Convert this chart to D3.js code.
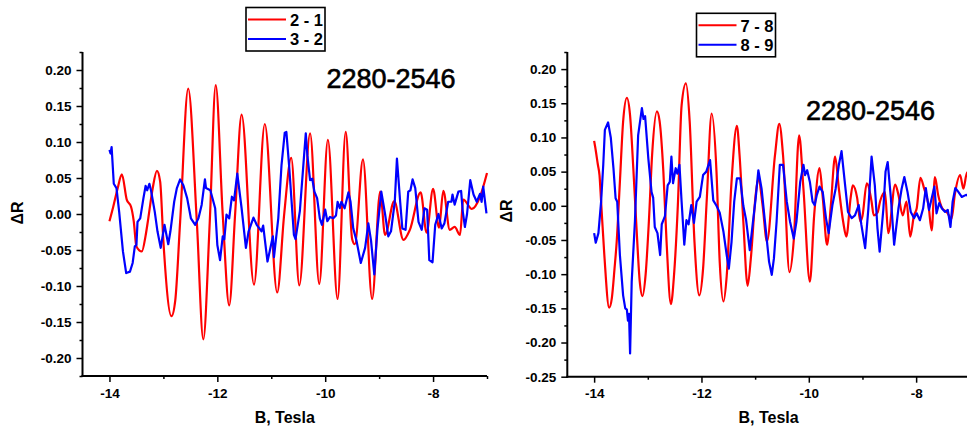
<!DOCTYPE html>
<html>
<head>
<meta charset="utf-8">
<script src="https://cdn.jsdelivr.net/npm/d3@7"></script>
<style>
  html, body { margin: 0; padding: 0; background: #ffffff; }
  svg { display: block; }
  text { font-family: "Liberation Sans", Arial, Helvetica, sans-serif; }
</style>
</head>
<body>
<svg id="chart" width="967" height="432"></svg>
<script>
// ---- shared axis settings ----
const fieldDomain = [-14.5, -7];
const xTickValues = [-14, -12, -10, -8];
const xTickLabels = ["-14", "-12", "-10", "-8"];
const xMinorValues = [-13, -11, -9, -7];

const leftYDomain = [-0.225, 0.225];
const leftYTickValues = [-0.20, -0.15, -0.10, -0.05, 0.00, 0.05, 0.10, 0.15, 0.20];
const leftYTickLabels = ["-0.20", "-0.15", "-0.10", "-0.05", "0.00", "0.05", "0.10", "0.15", "0.20"];
const leftYMinorValues = [-0.225, -0.175, -0.125, -0.075, -0.025, 0.025, 0.075, 0.125, 0.175, 0.225];

const rightYDomain = [-0.25, 0.225];
const rightYTickValues = [-0.25, -0.20, -0.15, -0.10, -0.05, 0.00, 0.05, 0.10, 0.15, 0.20];
const rightYTickLabels = ["-0.25", "-0.20", "-0.15", "-0.10", "-0.05", "0.00", "0.05", "0.10", "0.15", "0.20"];
const rightYMinorValues = [-0.225, -0.175, -0.125, -0.075, -0.025, 0.025, 0.075, 0.125, 0.175, 0.225];

const xTitle = "B, Tesla";
const yTitle = "ΔR";
const sampleLabel = "2280-2546";

const leftSeriesNames = ["2 - 1", "3 - 2"];
const rightSeriesNames = ["7 - 8", "8 - 9"];

// ---- series: [B (Tesla), ΔR] ----
const diff21 = [
  [-14.00, -0.010], [-13.93, 0.010], [-13.85, 0.035], [-13.77, 0.055], [-13.68, 0.020],
  [-13.60, 0.010], [-13.55, -0.010], [-13.50, -0.045], [-13.40, -0.052], [-13.33, -0.030],
  [-13.28, -0.006], [-13.20, 0.035], [-13.12, 0.060], [-13.06, 0.045], [-13.00, -0.038],
  [-12.85, -0.142], [-12.78, -0.120], [-12.69, -0.011], [-12.54, 0.174], [-12.38, -0.011],
  [-12.26, -0.174], [-12.14, -0.010], [-12.03, 0.179], [-11.90, -0.001], [-11.78, -0.127],
  [-11.67, 0.000], [-11.55, 0.138], [-11.32, -0.098], [-11.12, 0.125], [-10.89, -0.109],
  [-10.76, 0.000], [-10.63, 0.078], [-10.48, -0.099], [-10.28, 0.112], [-10.11, -0.097],
  [-9.95, 0.103], [-9.77, -0.118], [-9.62, 0.114], [-9.50, -0.035], [-9.45, -0.042],
  [-9.30, 0.076], [-9.13, -0.118], [-8.98, 0.031], [-8.89, -0.029], [-8.72, 0.018],
  [-8.55, -0.036], [-8.43, -0.022], [-8.23, 0.030], [-8.12, -0.026], [-8.00, 0.035],
  [-7.89, -0.019], [-7.81, 0.032], [-7.69, -0.022], [-7.60, -0.018], [-7.50, -0.029],
  [-7.44, 0.020], [-7.28, 0.007], [-7.13, 0.024], [-7.00, 0.057]
];

const diff32 = [
  [-14.00, 0.089], [-13.98, 0.084], [-13.96, 0.093], [-13.92, 0.042], [-13.87, 0.036],
  [-13.82, 0.003], [-13.75, -0.052], [-13.69, -0.082], [-13.62, -0.080], [-13.57, -0.068],
  [-13.53, -0.045], [-13.50, -0.043], [-13.48, -0.011], [-13.43, -0.006], [-13.37, 0.022],
  [-13.33, 0.039], [-13.30, 0.033], [-13.26, 0.042], [-13.23, 0.033], [-13.16, 0.003],
  [-13.11, -0.024], [-13.05, -0.047], [-12.98, -0.015], [-12.91, -0.042], [-12.87, -0.024],
  [-12.80, 0.017], [-12.75, 0.036], [-12.69, 0.048], [-12.63, 0.040], [-12.56, 0.022],
  [-12.49, -0.006], [-12.41, -0.015], [-12.35, -0.006], [-12.29, 0.013], [-12.23, 0.048],
  [-12.21, 0.036], [-12.13, 0.033], [-12.04, 0.008], [-12.00, -0.043], [-11.95, -0.064],
  [-11.90, -0.031], [-11.87, -0.035], [-11.83, -0.001], [-11.78, -0.006], [-11.73, 0.024],
  [-11.69, 0.019], [-11.63, 0.056], [-11.55, 0.008], [-11.47, -0.047], [-11.42, -0.024],
  [-11.33, -0.005], [-11.27, -0.015], [-11.18, -0.024], [-11.15, -0.016], [-11.07, -0.066],
  [-11.03, -0.052], [-10.97, -0.031], [-10.95, -0.060], [-10.87, -0.006], [-10.81, 0.068],
  [-10.75, 0.113], [-10.72, 0.114], [-10.67, 0.068], [-10.58, -0.029], [-10.55, -0.035],
  [-10.47, 0.004], [-10.41, 0.063], [-10.36, 0.112], [-10.33, 0.081], [-10.28, 0.047],
  [-10.24, 0.049], [-10.20, 0.031], [-10.15, 0.022], [-10.10, -0.006], [-10.06, -0.015],
  [-10.00, 0.006], [-9.96, -0.010], [-9.91, -0.004], [-9.85, -0.006], [-9.80, -0.002],
  [-9.77, 0.017], [-9.73, 0.008], [-9.70, 0.017], [-9.64, 0.008], [-9.57, 0.030],
  [-9.53, 0.017], [-9.48, -0.020], [-9.42, -0.037], [-9.34, -0.068], [-9.26, -0.047],
  [-9.20, -0.013], [-9.15, -0.037], [-9.09, -0.084], [-9.03, -0.020], [-8.96, 0.031],
  [-8.89, 0.000], [-8.83, -0.031], [-8.78, -0.024], [-8.71, 0.017], [-8.67, 0.077],
  [-8.61, 0.017], [-8.57, -0.020], [-8.51, -0.022], [-8.46, 0.031], [-8.42, 0.033],
  [-8.38, 0.048], [-8.33, 0.036], [-8.27, -0.011], [-8.21, -0.022], [-8.16, 0.008],
  [-8.11, 0.006], [-8.07, -0.064], [-8.01, -0.067], [-7.96, -0.015], [-7.90, 0.000],
  [-7.84, -0.020], [-7.79, -0.013], [-7.72, 0.017], [-7.66, 0.017], [-7.64, 0.027],
  [-7.60, 0.013], [-7.53, 0.031], [-7.48, 0.032], [-7.45, 0.004], [-7.41, -0.018],
  [-7.37, 0.000], [-7.31, 0.047], [-7.25, 0.027], [-7.19, 0.017], [-7.13, 0.028],
  [-7.10, 0.017], [-7.07, 0.038], [-7.01, 0.001]
];

const diff78 = [
  [-14.00, 0.095], [-13.98, 0.086], [-13.93, 0.060], [-13.90, 0.045], [-13.87, 0.006],
  [-13.81, -0.072], [-13.72, -0.149], [-13.67, -0.135], [-13.62, -0.092], [-13.58, -0.053],
  [-13.52, 0.035], [-13.46, 0.123], [-13.39, 0.158], [-13.33, 0.132], [-13.27, 0.055],
  [-13.21, -0.033], [-13.15, -0.111], [-13.10, -0.132], [-13.04, -0.100], [-12.98, -0.023],
  [-12.92, 0.074], [-12.83, 0.138], [-12.78, 0.124], [-12.71, 0.050], [-12.65, -0.053],
  [-12.57, -0.144], [-12.51, -0.100], [-12.44, 0.001], [-12.37, 0.147], [-12.29, 0.179],
  [-12.22, 0.124], [-12.13, -0.053], [-12.04, -0.131], [-11.97, -0.092], [-11.90, 0.011],
  [-11.81, 0.135], [-11.72, 0.050], [-11.66, -0.082], [-11.59, -0.140], [-11.53, -0.103],
  [-11.44, 0.035], [-11.34, 0.117], [-11.29, 0.074], [-11.22, -0.023], [-11.14, -0.117],
  [-11.08, -0.077], [-10.99, 0.016], [-10.94, 0.040], [-10.86, 0.000], [-10.78, -0.052],
  [-10.63, 0.074], [-10.55, 0.120], [-10.48, 0.074], [-10.36, -0.097], [-10.28, -0.050],
  [-10.18, 0.103], [-10.10, 0.025], [-9.98, -0.111], [-9.90, -0.014], [-9.80, 0.055],
  [-9.74, 0.012], [-9.66, -0.057], [-9.59, 0.000], [-9.51, 0.072], [-9.44, 0.025],
  [-9.36, -0.023], [-9.30, -0.045], [-9.22, 0.012], [-9.18, 0.030], [-9.10, 0.012],
  [-9.04, -0.023], [-9.00, -0.015], [-8.92, 0.033], [-8.83, 0.006], [-8.79, -0.014],
  [-8.72, -0.010], [-8.67, 0.007], [-8.58, 0.020], [-8.52, -0.040], [-8.39, 0.031],
  [-8.33, 0.016], [-8.25, -0.014], [-8.18, 0.006], [-8.11, -0.045], [-8.04, -0.014],
  [-7.99, -0.004], [-7.92, 0.041], [-7.85, 0.025], [-7.77, 0.001], [-7.71, -0.036],
  [-7.65, 0.042], [-7.59, 0.016], [-7.51, -0.004], [-7.43, -0.009], [-7.34, -0.019],
  [-7.28, 0.016], [-7.18, 0.045], [-7.12, 0.025], [-7.05, 0.049], [-7.00, 0.048]
];

const diff89 = [
  [-14.00, -0.040], [-13.97, -0.054], [-13.92, -0.040], [-13.87, 0.006], [-13.83, 0.060],
  [-13.80, 0.111], [-13.74, 0.122], [-13.69, 0.100], [-13.64, 0.055], [-13.60, 0.011],
  [-13.57, 0.006], [-13.52, -0.072], [-13.46, -0.131], [-13.42, -0.150], [-13.39, -0.152],
  [-13.37, -0.168], [-13.35, -0.158], [-13.33, -0.216], [-13.30, -0.111], [-13.24, -0.023],
  [-13.18, 0.103], [-13.11, 0.143], [-13.08, 0.127], [-13.05, 0.131], [-12.99, 0.069],
  [-12.93, 0.020], [-12.90, 0.012], [-12.87, -0.031], [-12.82, -0.040], [-12.77, -0.072],
  [-12.74, -0.027], [-12.68, -0.015], [-12.63, 0.030], [-12.59, 0.035], [-12.56, 0.072],
  [-12.53, 0.033], [-12.48, 0.055], [-12.45, 0.047], [-12.41, 0.060], [-12.37, 0.006],
  [-12.32, -0.057], [-12.28, -0.021], [-12.24, -0.027], [-12.19, 0.001], [-12.14, -0.025],
  [-12.09, 0.006], [-12.03, 0.013], [-11.97, 0.045], [-11.91, 0.050], [-11.84, 0.067],
  [-11.78, 0.008], [-11.72, 0.000], [-11.66, -0.010], [-11.59, -0.038], [-11.53, -0.072],
  [-11.49, -0.092], [-11.44, -0.053], [-11.39, 0.006], [-11.34, 0.040], [-11.28, 0.040],
  [-11.22, 0.000], [-11.17, -0.020], [-11.10, -0.065], [-11.04, -0.023], [-10.99, 0.011],
  [-10.94, 0.052], [-10.88, 0.025], [-10.82, -0.021], [-10.74, -0.082], [-10.69, -0.101],
  [-10.65, -0.077], [-10.60, -0.023], [-10.54, 0.060], [-10.48, 0.060], [-10.41, 0.006],
  [-10.35, -0.023], [-10.28, -0.048], [-10.23, -0.023], [-10.16, 0.035], [-10.10, 0.060],
  [-10.07, 0.045], [-10.03, 0.052], [-9.98, 0.035], [-9.93, 0.006], [-9.89, 0.001],
  [-9.85, 0.016], [-9.80, 0.028], [-9.74, 0.020], [-9.68, -0.018], [-9.63, -0.040],
  [-9.56, 0.001], [-9.50, 0.025], [-9.44, 0.060], [-9.39, 0.080], [-9.33, 0.035],
  [-9.27, -0.009], [-9.20, -0.018], [-9.14, -0.014], [-9.07, 0.001], [-9.02, -0.028],
  [-8.95, -0.062], [-8.89, -0.004], [-8.83, 0.072], [-8.77, 0.030], [-8.72, -0.033],
  [-8.68, -0.067], [-8.61, -0.004], [-8.57, 0.050], [-8.53, 0.064], [-8.47, 0.011],
  [-8.41, -0.057], [-8.33, -0.004], [-8.27, 0.025], [-8.22, 0.042], [-8.16, 0.020],
  [-8.10, -0.009], [-8.04, -0.018], [-7.99, -0.011], [-7.93, -0.021], [-7.87, -0.004],
  [-7.82, 0.026], [-7.76, -0.006], [-7.71, 0.011], [-7.66, 0.028], [-7.62, -0.011],
  [-7.57, 0.004], [-7.52, -0.004], [-7.46, -0.009], [-7.41, -0.006], [-7.36, -0.031],
  [-7.32, 0.006], [-7.27, 0.026], [-7.21, 0.020], [-7.15, 0.013], [-7.07, 0.016],
  [-7.00, 0.014]
];

const RED = "#ff0000";
const BLUE = "#0000ff";

const svg = d3.select("#chart");

function drawPanel(cfg) {
  const x = d3.scaleLinear().domain(fieldDomain).range([cfg.left, cfg.right]);
  const y = d3.scaleLinear().domain(cfg.yDomain).range([cfg.bottom, cfg.top]);
  const g = svg.append("g");

  // data curves (red smooth, blue follows the raw points)
  const smooth = d3.line().x(d => x(d[0])).y(d => y(d[1])).curve(d3.curveMonotoneX);
  const raw = d3.line().x(d => x(d[0])).y(d => y(d[1])).curve(d3.curveLinear);

  g.append("path").datum(cfg.series[0]).attr("d", smooth)
    .attr("fill", "none").attr("stroke", RED).attr("stroke-width", 2.2)
    .attr("stroke-linejoin", "round");
  g.append("path").datum(cfg.series[1]).attr("d", raw)
    .attr("fill", "none").attr("stroke", BLUE).attr("stroke-width", 2.2)
    .attr("stroke-linejoin", "round");

  // y axis: major ticks with labels, then minor ticks
  const yMajor = d3.axisLeft(y).tickValues(cfg.yTicks)
    .tickFormat((d, i) => cfg.yLabels[i]).tickSize(6).tickSizeOuter(0).tickPadding(5);
  const yMinor = d3.axisLeft(y).tickValues(cfg.yMinor).tickFormat("").tickSize(3).tickSizeOuter(0);
  const gy = g.append("g").attr("transform", `translate(${cfg.left},0)`).call(yMajor);
  const gym = g.append("g").attr("transform", `translate(${cfg.left},0)`).call(yMinor);
  gym.select(".domain").remove();

  // x axis
  const xMajor = d3.axisBottom(x).tickValues(xTickValues)
    .tickFormat((d, i) => xTickLabels[i]).tickSize(6).tickSizeOuter(0).tickPadding(6);
  const xMinor = d3.axisBottom(x).tickValues(xMinorValues).tickFormat("").tickSize(3).tickSizeOuter(0);
  const gx = g.append("g").attr("transform", `translate(0,${cfg.bottom})`).call(xMajor);
  const gxm = g.append("g").attr("transform", `translate(0,${cfg.bottom})`).call(xMinor);
  gxm.select(".domain").remove();

  [gy, gym, gx, gxm].forEach(a => {
    a.selectAll(".tick line").attr("stroke", "#000").attr("stroke-width", 1.5);
    a.selectAll(".tick text").attr("fill", "#000")
      .style("font-size", "13.5px").style("font-weight", "bold")
      .style("font-family", '"Liberation Sans", Arial, sans-serif');
  });
  gy.select(".domain").attr("stroke", "#000").attr("stroke-width", 2)
    .attr("d", `M0,${cfg.top}V${cfg.bottom + 1}`);
  gx.select(".domain").attr("stroke", "#000").attr("stroke-width", 2)
    .attr("d", `M${cfg.left - 1},0H${cfg.right}`);

  // axis titles
  g.append("text")
    .attr("transform", `translate(${cfg.yTitleX},${cfg.yTitleY}) rotate(-90)`)
    .attr("text-anchor", "middle")
    .style("font-size", "16px").style("font-weight", "bold")
    .text(yTitle);
  g.append("text")
    .attr("x", (cfg.left + cfg.right) / 2).attr("y", 423)
    .attr("text-anchor", "middle")
    .style("font-size", "16px").style("font-weight", "bold")
    .text(xTitle);

  // sample annotation
  g.append("text")
    .attr("x", cfg.noteX).attr("y", cfg.noteY)
    .style("font-size", "27px")
    .attr("stroke", "#000").attr("stroke-width", 0.6)
    .text(sampleLabel);

  // legend
  const lg = g.append("g").attr("transform", `translate(${cfg.legX},${cfg.legY})`);
  lg.append("rect").attr("x", 0).attr("y", 0).attr("width", 79).attr("height", 43.5)
    .attr("fill", "#fff").attr("stroke", "#000").attr("stroke-width", 1.6);
  [RED, BLUE].forEach((c, i) => {
    const cy = 12 + i * 19.5;
    lg.append("line").attr("x1", 2).attr("x2", 40).attr("y1", cy).attr("y2", cy)
      .attr("stroke", c).attr("stroke-width", 2);
    lg.append("text").attr("x", 44).attr("y", cy + 6.3)
      .style("font-size", "16.5px").style("font-weight", "bold")
      .text(cfg.names[i]);
  });
}

drawPanel({
  left: 82.5, right: 487, top: 52, bottom: 376,
  yDomain: leftYDomain, yTicks: leftYTickValues, yLabels: leftYTickLabels, yMinor: leftYMinorValues,
  series: [diff21, diff32], names: leftSeriesNames,
  yTitleX: 22.5, yTitleY: 213,
  noteX: 326.5, noteY: 87.5,
  legX: 246, legY: 7.5
});

drawPanel({
  left: 567.3, right: 969.8, top: 52, bottom: 376.7,
  yDomain: rightYDomain, yTicks: rightYTickValues, yLabels: rightYTickLabels, yMinor: rightYMinorValues,
  series: [diff78, diff89], names: rightSeriesNames,
  yTitleX: 512, yTitleY: 211,
  noteX: 806, noteY: 120,
  legX: 696.5, legY: 13.3
});
</script>
</body>
</html>
